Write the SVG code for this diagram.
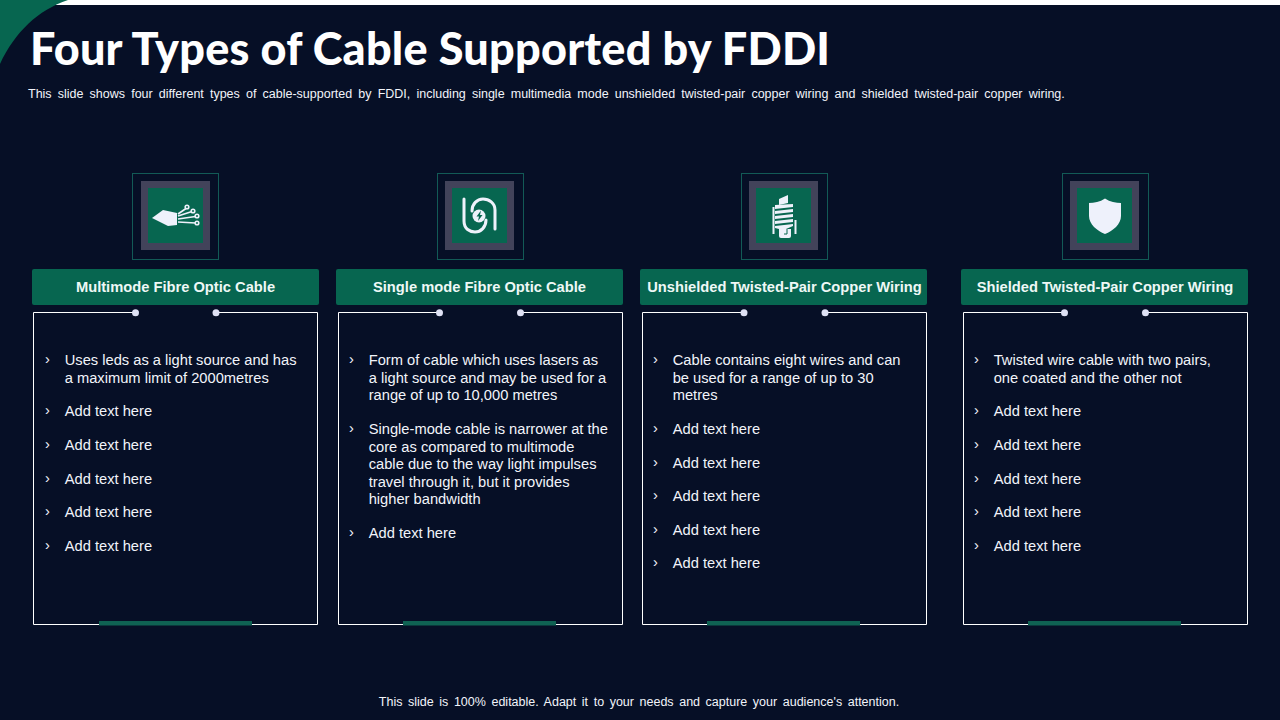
<svg xmlns="http://www.w3.org/2000/svg" width="1280" height="720" viewBox="0 0 1280 720">
<style>
.t{font-family:"Liberation Sans",Arial,sans-serif;font-size:14.7px;fill:#f2f4fa}
.b{font-family:"Liberation Sans",Arial,sans-serif;font-size:14.7px;fill:#f2f4fa}
.h{font-family:"Liberation Sans",Arial,sans-serif;font-size:14.7px;font-weight:700;fill:#eef8f6;text-anchor:middle}
.s{font-family:"Liberation Sans",Arial,sans-serif;font-size:12.5px;fill:#f2f4fa}
.hd{fill:#076650}
.o{fill:none;stroke:#125a56;stroke-width:1}
.g{fill:#42435a}
.gr{fill:#076650}
.e{fill:none;stroke:#fff;stroke-width:1}
.d{fill:#dfe2f5}
.bar{fill:#0f6253}
.i{fill:#eef1fb}
.l{fill:none;stroke:#eef1fb;stroke-width:1.6}
.lw{fill:none;stroke:#eef1fb;stroke-width:3;stroke-linecap:round}
</style>
<rect width="1280" height="720" fill="#060f26"/>
<rect width="1280" height="5" fill="#fff"/>
<path d="M0 0H68C38 10 15 32 0 64Z" fill="#076650"/>
<text x="30" y="65" font-family="Lato,sans-serif" font-weight="900" font-size="45" fill="#fff" textLength="800" lengthAdjust="spacing">Four Types of Cable Supported by FDDI</text>
<text x="28" y="98" class="s" word-spacing="2.67">This slide shows four different types of cable-supported  by FDDI, including single multimedia mode unshielded twisted-pair copper wiring and shielded twisted-pair copper wiring.</text>

<g id="node-multimode">
<rect class="o" x="132.500" y="173.500" width="86" height="86"/>
<rect class="g" x="141" y="181" width="69" height="69"/>
<rect class="gr" x="148" y="188" width="55" height="55"/>
<path class="i" d="M152 218L163 210 177 213V225L168 226Z"/>
<path class="l" d="M178 214L186 208.500M178 216L192 211.500M178 219L195.500 216.500M178 222L195.500 223"/>
<g class="l"><circle cx="187" cy="207" r="1.800"/><circle cx="193" cy="211" r="1.800"/><circle cx="197" cy="216" r="1.800"/><circle cx="197" cy="223" r="1.800"/></g>
<rect class="hd" x="32" y="269" width="287" height="36" rx="2"/>
<text class="h" x="175.500" y="291.500">Multimode Fibre Optic Cable</text>
<path class="e" d="M135.500 312.500H33.500V624.500H317.500V312.500H216"/>
<circle class="d" cx="135.500" cy="312.800" r="3.500"/><circle class="d" cx="216" cy="312.800" r="3.500"/>
<rect class="bar" x="99" y="621" width="153" height="4.500"/>
<g class="t">
<text x="45" y="364" class="b">›</text><text x="64.700" y="365">Uses leds as a light source and has</text><text x="64.700" y="383">a maximum limit of 2000metres</text>
<text x="45" y="415" class="b">›</text><text x="64.700" y="416">Add text here</text>
<text x="45" y="449" class="b">›</text><text x="64.700" y="450">Add text here</text>
<text x="45" y="483" class="b">›</text><text x="64.700" y="484">Add text here</text>
<text x="45" y="516" class="b">›</text><text x="64.700" y="517">Add text here</text>
<text x="45" y="550" class="b">›</text><text x="64.700" y="551">Add text here</text>
</g>
</g>

<g id="node-singlemode">
<rect class="o" x="437.500" y="173.500" width="86" height="86"/>
<rect class="g" x="445" y="181" width="69" height="69"/>
<rect class="gr" x="452" y="188" width="55" height="55"/>
<path class="lw" d="M464 199V221C464 229 470 232 475 232 481 232 486 227 486 220"/>
<path class="lw" d="M495 229V210C495 203 489 199 483 199 477 199 472 204 472 211"/>
<circle class="i" cx="479" cy="216" r="6.500"/>
<path d="M481 210.500L476.500 216.500H479L478 221 482.500 215H480Z" fill="#076650"/>
<rect class="hd" x="336" y="269" width="287" height="36" rx="2"/>
<text class="h" x="479.500" y="291.500">Single mode Fibre Optic Cable</text>
<path class="e" d="M439.500 312.500H338.500V624.500H622.500V312.500H520.500"/>
<circle class="d" cx="439.500" cy="312.800" r="3.500"/><circle class="d" cx="520.500" cy="312.800" r="3.500"/>
<rect class="bar" x="403" y="621" width="153" height="4.500"/>
<g class="t">
<text x="349" y="364" class="b">›</text><text x="368.700" y="365">Form of cable which uses lasers as</text><text x="368.700" y="383">a light source and may be used for a</text><text x="368.700" y="400">range of up to 10,000 metres</text>
<text x="349" y="433" class="b">›</text><text x="368.700" y="434">Single-mode cable is narrower at the</text><text x="368.700" y="452">core as compared to multimode</text><text x="368.700" y="469">cable due to the way light impulses</text><text x="368.700" y="487">travel through it, but it provides</text><text x="368.700" y="504">higher bandwidth</text>
<text x="349" y="537" class="b">›</text><text x="368.700" y="538">Add text here</text>
</g>
</g>

<g id="node-unshielded">
<rect class="o" x="741.500" y="173.500" width="86" height="86"/>
<rect class="g" x="749" y="181" width="69" height="69"/>
<rect class="gr" x="756" y="188" width="55" height="55"/>
<path class="i" d="M779 199L788 195V203L779 205Z"/>
<path class="i" d="M775 205L793 204V207L775 209ZM775 211L793 209V212L775 214ZM775 216L793 214V217L775 219ZM775 221L793 219V222L775 224ZM775 226L793 224V226L786 229H779L775 228Z"/>
<path class="i" d="M779 229H791V236Q791 238 789 238H781Q779 238 779 236Z"/>
<path d="M787 229V234H784" fill="none" stroke="#076650" stroke-width="1"/>
<path class="l" style="stroke-width:2" d="M773.500 207V234M795.500 220V234"/>
<rect class="hd" x="640" y="269" width="287" height="36" rx="2"/>
<text class="h" x="784.500" y="291.500">Unshielded Twisted-Pair Copper Wiring</text>
<path class="e" d="M744 312.500H642.500V624.500H926.500V312.500H825"/>
<circle class="d" cx="744" cy="312.800" r="3.500"/><circle class="d" cx="825" cy="312.800" r="3.500"/>
<rect class="bar" x="707" y="621" width="153" height="4.500"/>
<g class="t">
<text x="653" y="364" class="b">›</text><text x="672.700" y="365">Cable contains eight wires and can</text><text x="672.700" y="383">be used for a range of up to 30</text><text x="672.700" y="400">metres</text>
<text x="653" y="433" class="b">›</text><text x="672.700" y="434">Add text here</text>
<text x="653" y="467" class="b">›</text><text x="672.700" y="468">Add text here</text>
<text x="653" y="500" class="b">›</text><text x="672.700" y="501">Add text here</text>
<text x="653" y="534" class="b">›</text><text x="672.700" y="535">Add text here</text>
<text x="653" y="567" class="b">›</text><text x="672.700" y="568">Add text here</text>
</g>
</g>

<g id="node-shielded">
<rect class="o" x="1062.500" y="173.500" width="86" height="86"/>
<rect class="g" x="1070" y="181" width="69" height="69"/>
<rect class="gr" x="1077" y="188" width="55" height="55"/>
<path class="i" d="M1105 198.500C1100 202 1094 203 1089 203V216C1089 224 1097 231 1105 234 1113 231 1121 224 1121 216V203C1116 203 1110 202 1105 198.500Z"/>
<rect class="hd" x="961" y="269" width="287" height="36" rx="2"/>
<text class="h" x="1105" y="291.500">Shielded Twisted-Pair Copper Wiring</text>
<path class="e" d="M1064.500 312.500H963.500V624.500H1247.500V312.500H1145.500"/>
<circle class="d" cx="1064.500" cy="312.800" r="3.500"/><circle class="d" cx="1145.500" cy="312.800" r="3.500"/>
<rect class="bar" x="1028" y="621" width="153" height="4.500"/>
<g class="t">
<text x="974" y="364" class="b">›</text><text x="993.700" y="365">Twisted wire cable with two pairs,</text><text x="993.700" y="383">one coated and the other not</text>
<text x="974" y="415" class="b">›</text><text x="993.700" y="416">Add text here</text>
<text x="974" y="449" class="b">›</text><text x="993.700" y="450">Add text here</text>
<text x="974" y="483" class="b">›</text><text x="993.700" y="484">Add text here</text>
<text x="974" y="516" class="b">›</text><text x="993.700" y="517">Add text here</text>
<text x="974" y="550" class="b">›</text><text x="993.700" y="551">Add text here</text>
</g>
</g>
<g id="connectors"/>
<text x="639" y="706" class="s" text-anchor="middle" word-spacing="2.100">This slide is 100% editable. Adapt it to your needs and capture your audience's attention.</text>
</svg>
